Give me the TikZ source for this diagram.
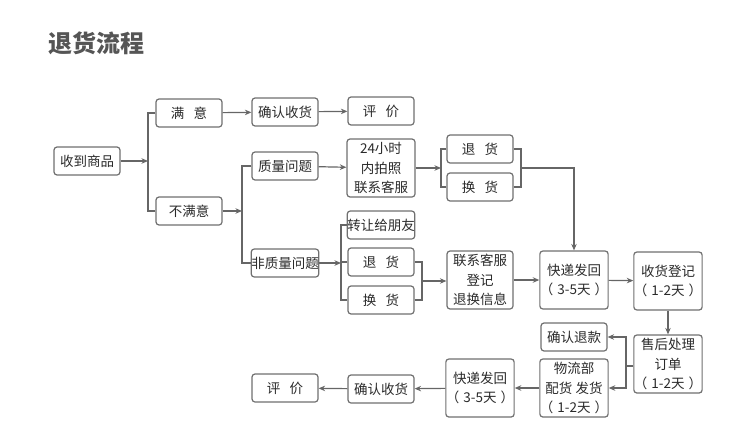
\documentclass[tikz,border=0pt]{standalone}
\usepackage{fontspec}
\setmainfont{Noto Sans CJK SC}
\usetikzlibrary{arrows.meta}
\definecolor{bd}{HTML}{707070}
\definecolor{ar}{HTML}{666666}
\definecolor{tx}{HTML}{2A2A2A}
\definecolor{tt}{HTML}{555555}
\newcommand{\pday}[1]{（\hspace{0.3em}#1\hspace{0.3em}）}
\begin{document}
\begin{tikzpicture}[x=1pt,y=-1pt,
  box/.style={draw=bd, line width=1.2pt, rounded corners=3pt, fill=white,
    minimum width=66pt, minimum height=28pt, inner sep=0pt, align=center,
    font=\fontsize{13.5}{19.5}\selectfont, text=tx},
  tall/.style={box, minimum height=58pt},
  arr/.style={draw=ar, line width=1.2pt, -{Stealth[length=6.5pt,width=5.5pt]}},
  ln/.style={draw=ar, line width=1.2pt}]
\useasboundingbox (0,0) rectangle (741,439);
\node[font=\fontsize{24}{28}\selectfont\bfseries, text=tt] (title) at (96,43) {退货流程};

% nodes
\node[box] (sd) at (87,161) {收到商品};
\node[box] (my) at (189,113) {满\hspace{0.7em}意};
\node[box] (bmy) at (189,211) {不满意};
\node[box] (qr1) at (285,112) {确认收货};
\node[box] (pj1) at (381,111) {评\hspace{0.7em}价};
\node[box] (zl) at (285,166) {质量问题};
\node[tall, minimum width=68pt] (h24) at (381,168) {24小时\\内拍照\\联系客服};
\node[box] (th1) at (480,149) {退\hspace{0.7em}货};
\node[box] (hh1) at (480,187) {换\hspace{0.7em}货};
\node[box] (fzl) at (285,263) {非质量问题};
\node[box] (zr) at (381,225) {转让给朋友};
\node[box] (th2) at (381,262) {退\hspace{0.7em}货};
\node[box] (hh2) at (381,300) {换\hspace{0.7em}货};
\node[tall] (lx) at (480,280) {联系客服\\登记\\退换信息};
\node[tall] (kd1) at (574,280) {快递发回\\\pday{3-5天}};
\node[tall] (sh) at (668,281) {收货登记\\\pday{1-2天}};
\node[tall] (shcl) at (668,364) {售后处理\\订单\\\pday{1-2天}};
\node[box] (qrtk) at (574,337) {确认退款};
\node[tall] (wl) at (574,388) {物流部\\配货 发货\\\pday{1-2天}};
\node[tall] (kd2) at (480,388) {快递发回\\\pday{3-5天}};
\node[box] (qr2) at (381,389) {确认收货};
\node[box] (pj2) at (285,388) {评\hspace{0.7em}价};

% bracket coordinates
\coordinate (b1) at (148,161);
\coordinate (b2) at (242,211);
\coordinate (b3) at (441,168);
\coordinate (b4) at (521,168);
\coordinate (b5) at (341,263);
\coordinate (b6) at (422,281);
\coordinate (b7) at (626,366);

% connectors
\draw[arr] (sd) -- (b1);
\draw[ln] (my.west) -| (b1);
\draw[ln] (bmy.west) -| (b1);
\draw[arr] (my) -- (qr1);
\draw[arr] (qr1) -- (pj1);

\draw[arr] (bmy) -- (b2);
\draw[ln] (zl.west) -| (b2);
\draw[ln] (fzl.west) -| (b2);

\draw[arr] (zl) -- (h24);
\draw[arr] (h24) -- (b3);
\draw[ln] (th1.west) -| (b3);
\draw[ln] (hh1.west) -| (b3);
\draw[ln] (th1.east) -| (b4);
\draw[ln] (hh1.east) -| (b4);
\draw[arr] (b4) -| (kd1.north);

\draw[arr] (fzl) -- (b5);
\draw[ln] (zr.west) -| (b5);
\draw[ln] (hh2.west) -| (b5);
\draw[ln] (th2.west) -- (b5 |- th2.west);
\draw[ln] (th2.east) -| (b6);
\draw[ln] (hh2.east) -| (b6);
\draw[arr] (b6) -- (b6 -| lx.west);

\draw[arr] (lx) -- (kd1);
\draw[arr] (kd1) -- (sh);
\draw[arr] (sh) -- (shcl);
\draw[ln] (shcl.west |- b7) -- (b7);
\draw[arr] (b7) |- (qrtk.east);
\draw[arr] (b7) |- (wl.east);
\draw[arr] (wl) -- (kd2);
\draw[arr] (kd2) -- (qr2);
\draw[arr] (qr2) -- (pj2);
\end{tikzpicture}
\end{document}
